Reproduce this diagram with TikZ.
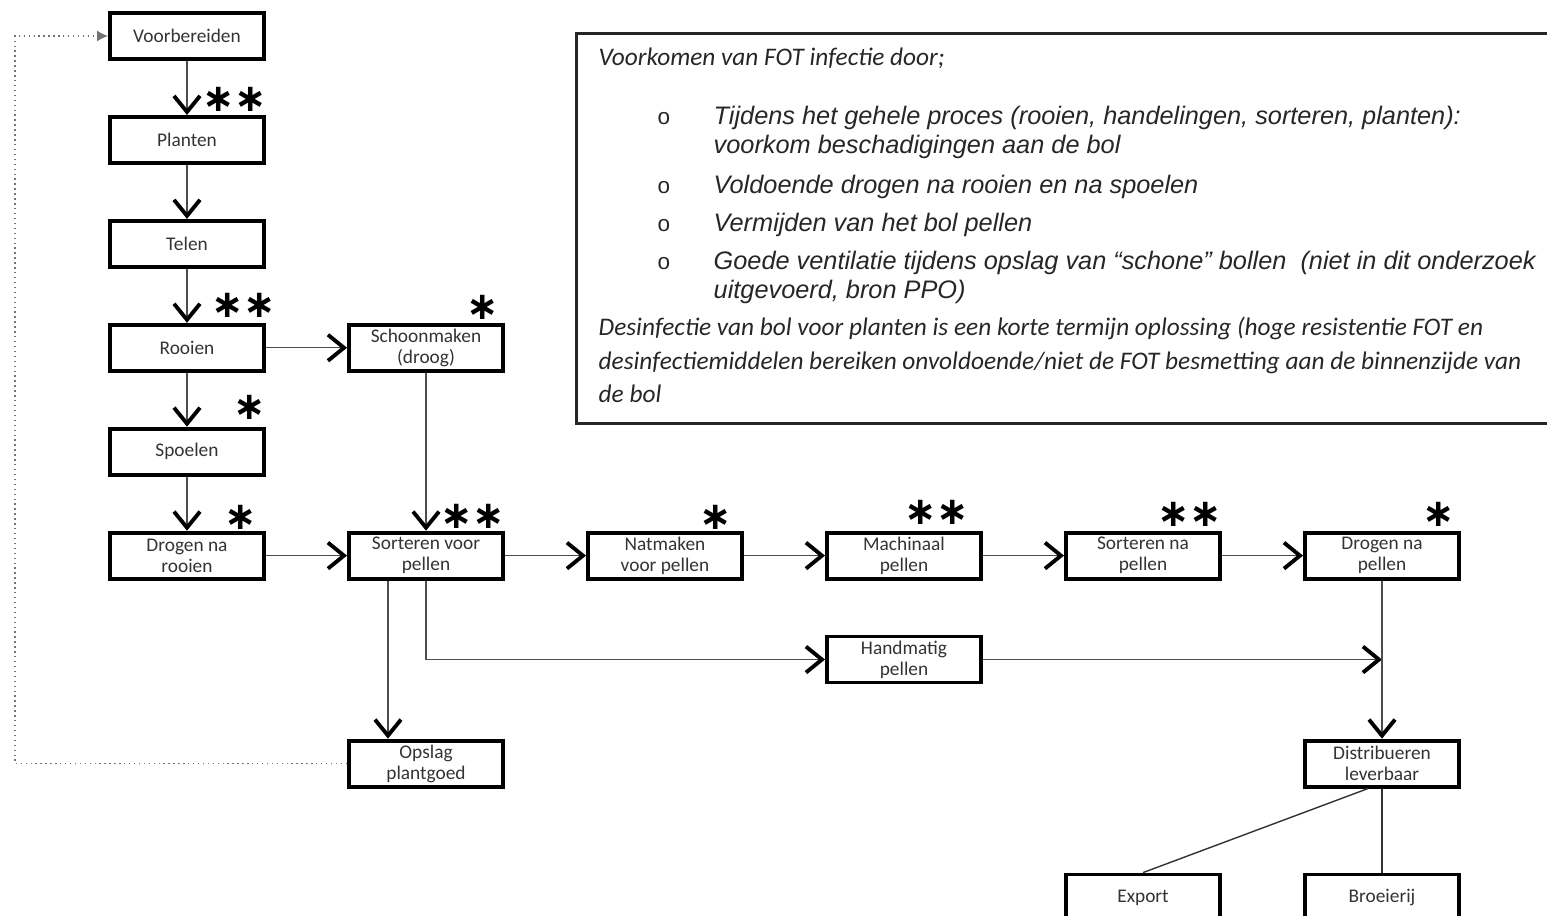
\documentclass[tikz,border=0pt]{standalone}
\usepackage{fontspec}
\setmainfont{Carlito}
\newfontfamily\arialfont{Liberation Sans}
\newfontfamily\sterfont{DejaVu Sans}
\usetikzlibrary{arrows.meta,calc,positioning}
\tikzset{
    -{Straight Barb[length=1.6mm,width=2.6mm,line width=1.1pt,color=black]},
    node distance = 0.54cm and 0.81cm, semithick,
    proc/.style = {rectangle, draw=black, line width=1.1pt, minimum width=1.54cm, minimum height=0.46cm, align=center, inner sep=1pt, text=black!80, font=\fontsize{5.5}{6}\selectfont},
    prio/.style = {inner sep=0pt, text=black, font=\sterfont\bfseries\fontsize{11}{11}\selectfont},
    terug/.style = {densely dotted, black!55, -{Latex[length=1.1mm,width=1.1mm]}},
    los/.style = {-, black!80},
    kader/.style = {rectangle, draw=black!85, line width=0.8pt, anchor=north west, minimum width=9.9cm, minimum height=3.9cm, inner sep=0pt},
    regel/.style = {anchor=base west, inner sep=0pt, text=black!85, font=\fontsize{7.2}{8}\selectfont\itshape},
    punt/.style = {anchor=base west, inner sep=0pt, text=black!85, font=\arialfont\fontsize{7.2}{8}\selectfont\itshape},
    bol/.style = {anchor=base west, inner sep=0pt, text=black!85, font=\arialfont\fontsize{6.4}{7}\selectfont}
}
\begin{document}
\begin{tikzpicture}[x=0.01cm, y=-0.01cm]
    \useasboundingbox (0,0) rectangle (1547,916);

    % Teelt
    \node[proc] (voorb) at (187,36) {Voorbereiden};
    \node[proc] (planten) [below =of voorb] {Planten};
    \node[proc] (telen) [below =of planten] {Telen};
    \node[proc] (rooien) [below =of telen] {Rooien};
    \node[proc] (spoelen) [below =of rooien] {Spoelen};
    \node[proc] (drogenr) [below =of spoelen] {Drogen na\\rooien};
    \node[proc] (schoon) [right =of rooien] {Schoonmaken\\(droog)};

    % Pellen
    \node[proc] (sortv) [right =of drogenr] {Sorteren voor\\pellen};
    \node[proc] (natmaken) [right =of sortv] {Natmaken\\voor pellen};
    \node[proc] (machinaal) [right =of natmaken] {Machinaal\\pellen};
    \node[proc] (sortna) [right =of machinaal] {Sorteren na\\pellen};
    \node[proc] (drogenp) [right =of sortna] {Drogen na\\pellen};
    \node[proc] (handm) [below =of machinaal] {Handmatig\\pellen};
    \node[proc] (opslag) [below =1.58cm of sortv] {Opslag\\plantgoed};

    % Afzet
    \node[proc] (distr) [below =1.58cm of drogenp] {Distribueren\\leverbaar};
    \node[proc] (broei) [below =0.84cm of distr] {Broeierij};
    \node[proc] (export) [left =of broei] {Export};
    \coordinate (terugx) at (15,0);

    % Sterren
    \node[prio] (s1) at ($(planten.north east)+(-31,-16)$) {∗∗};
    \node[prio] (s2) at ($(rooien.north east)+(-22,-17)$) {∗∗};
    \node[prio] (s3) at ($(spoelen.north east)+(-16,-19)$) {∗};
    \node[prio] (s4) at ($(drogenr.north east)+(-25,-13)$) {∗};
    \node[prio] (s5) at ($(schoon.north east)+(-22,-15)$) {∗};
    \node[prio] (s6) at ($(sortv.north east)+(-32,-14)$) {∗∗};
    \node[prio] (s7) at ($(natmaken.north east)+(-28,-13)$) {∗};
    \node[prio] (s8) at ($(machinaal.north east)+(-46,-18)$) {∗∗};
    \node[prio] (s9) at ($(sortna.north east)+(-32,-16)$) {∗∗};
    \node[prio] (s10) at ($(drogenp.north east)+(-22,-16)$) {∗};

    % Kader met maatregelen
    \node[kader] (note) at (575,32) {};
    \node[regel] (n0) at (598,66) {Voorkomen van FOT infectie door;};
    \node[bol] (o1) at (657,125) {o};
    \node[bol] (o2) at (657,194) {o};
    \node[bol] (o3) at (657,232) {o};
    \node[bol] (o4) at (657,270) {o};
    \node[punt] (i1) at (713,125) {Tijdens het gehele proces (rooien, handelingen, sorteren, planten):};
    \node[punt] (i1b) at (713,154) {voorkom beschadigingen aan de bol};
    \node[punt] (i2) at (713,194) {Voldoende drogen na rooien en na spoelen};
    \node[punt] (i3) at (713,232) {Vermijden van het bol pellen};
    \node[punt] (i4) at (713,270) {Goede ventilatie tijdens opslag van “schone” bollen\ \ (niet in dit onderzoek};
    \node[punt] (i4b) at (713,299) {uitgevoerd, bron PPO)};
    \node[regel] (d1) at (598,336) {Desinfectie van bol voor planten is een korte termijn oplossing (hoge resistentie FOT en};
    \node[regel] (d2) at (598,370) {desinfectiemiddelen bereiken onvoldoende/niet de FOT besmetting aan de binnenzijde van};
    \node[regel] (d3) at (598,403) {de bol};

    % Pijlen
    \path[black!70] (voorb) edge (planten)
        (planten) edge (telen)
        (telen) edge (rooien)
        (rooien) edge (spoelen)
        (spoelen) edge (drogenr)
        (rooien) edge (schoon)
        (schoon) edge (sortv)
        (drogenr) edge (sortv)
        (sortv) edge (natmaken)
        (natmaken) edge (machinaal)
        (machinaal) edge (sortna)
        (sortna) edge (drogenp);
    \draw[black!70] (sortv.south) |- (handm.west);
    \draw[black!70] ([xshift=-0.38cm]sortv.south) -- ([xshift=-0.38cm]opslag.north);
    \draw[black!70] (handm.east) -- (handm.east -| drogenp.south);
    \draw[black!70] (drogenp) -- (distr);
    \draw[los] ([xshift=-0.14cm]distr.south) -- (export.north);
    \draw[los] (distr) -- (broei);
    \draw[terug] (opslag.west) -- (terugx |- opslag.west) |- (voorb.west);

\end{tikzpicture}
\end{document}
